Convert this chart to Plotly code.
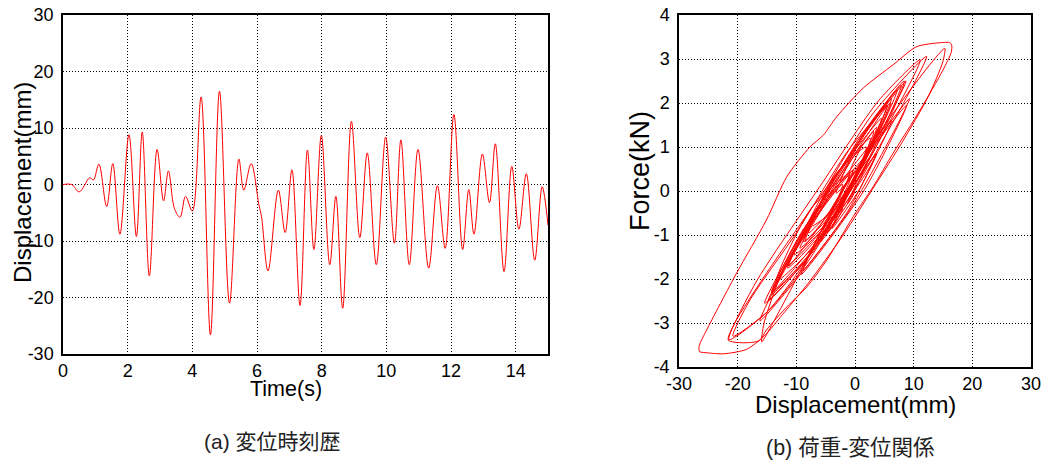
import plotly.graph_objects as go
from plotly.subplots import make_subplots

# ---------------- data: (a) displacement time history (peaks)
time_s = [0.0, 0.27, 0.5, 0.83, 0.94, 1.11, 1.35, 1.54, 1.76, 2.04, 2.27, 2.45, 2.67,
          2.91, 3.11, 3.26, 3.45, 3.62, 3.79, 4.0, 4.27, 4.56, 4.84, 5.15, 5.44, 5.59,
          5.82, 6.06, 6.14, 6.34, 6.66, 6.87, 7.08, 7.33, 7.56, 7.76, 7.99, 8.25, 8.44,
          8.65, 8.92, 9.18, 9.41, 9.69, 9.98, 10.25, 10.45, 10.71, 10.98, 11.31, 11.58,
          11.82, 12.09, 12.36, 12.55, 12.71, 12.97, 13.19, 13.37, 13.64, 13.88, 14.1,
          14.33, 14.59, 14.82, 15.0]
disp_mm = [0.0, 0.0, -1.3, 1.2, 0.8, 3.6, -3.9, 3.7, -8.8, 8.8, -9.2, 9.3, -16.2,
           6.2, -2.9, 2.4, -4.3, -5.8, -2.1, -4.7, 15.5, -26.6, 16.5, -21.0, 4.5, -1.0,
           3.7, -3.6, -5.7, -15.3, -1.0, -8.5, 2.6, -21.4, 6.1, -11.5, 8.7, -14.2, -2.1,
           -21.9, 11.2, -9.4, 5.6, -14.2, 8.4, -10.4, 7.9, -14.2, 6.2, -14.8, -0.2,
           -11.3, 12.4, -11.5, -0.9, -8.8, 5.4, -3.2, 7.2, -15.4, 3.2, -7.9,
           1.9, -13.4, -0.4, -7.2]

# ---------------- data: (b) force-displacement loops
hyst_disp = [0.0, -0.52, -1.3, 0.65, 3.6, 0.6, -3.9, -0.86, 3.7, -1.3, -8.8, -1.76, 8.8,
             1.6, -9.2, -1.8, 9.3, -0.9, -16.2, -7.24, 6.2, 2.55, -2.9, -0.78, 2.4, -0.88,
             -5.8, -4.32, -2.1, -3.14, -4.7, 3.3, 15.3,
             15.0, 12.5, 8.0, 3.5, -2.0, -8.0, -12.0, -15.5, -18.5, -22.4, -25.0, -26.5, -26.6,
             -26.4, -25.3, -20.2, -15.1, -11.6, -7.7, -5.4, -3.1, 1.4, 6.5, 10.5, 14.5, 16.2, 16.5,
             16.4, 15.0, 11.1, 6.5, 3.1, -0.3, -4.8, -8.2, -11.6, -15.1, -16.3, -19.0, -21.6,
             -20.5, -15.0, -5.0, 4.5, 2.0, -1.0, 1.1, 3.7, 1.0, -5.7, -10.0, -14.0, -15.9,
             -15.5, -12.0, -6.0, -1.0, -4.4, -8.5, -3.8, 2.6, 0.0, -8.0, -15.0, -20.8,
             -18.0, -10.0, -1.0, 6.1, 1.0, -6.0, -11.5, -6.0, 2.0, 8.7, 3.0, -6.0, -14.2,
             -8.7, -2.1, -7.0, -15.0, -21.5, -17.0, -6.0, 4.0, 11.1, 5.0, -3.0, -9.4,
             -4.0, 1.0, 5.6, 0.0, -8.0, -14.2, -8.0, 1.0, 8.4, 3.0, -5.0, -10.4,
             -5.0, 2.0, 7.9, 2.0, -7.0, -14.2, -8.0, 0.0, 6.2, 1.0, -8.0, -14.8,
             -8.0, -0.2, -5.0, -11.3, -6.0, 3.0, 12.2, 6.0, -3.0, -11.5, -6.5, -0.9,
             -4.2, -8.8, -3.5, 5.4, 1.8, -3.2, 1.0, 7.2, 2.0, -7.0, -15.4, -7.0, 3.2,
             -1.5, -7.9, -3.5, 1.9, -4.0, -13.4, -7.5, -0.4, -3.3, -7.2]
hyst_force = [0.0, -0.15, -0.3, 0.28, 0.85, 0.0, -0.85, 0.0, 0.85, -0.475, -1.8, 0.075, 1.95,
              0.025, -1.9, 0.1, 2.1, -0.43, -2.95, -0.68, 1.6, 0.55, -0.5, 0.125, 0.75, -0.2,
              -1.15, -0.775, -0.4, -0.675, -0.95, 1.15, 3.24,
              2.95, 2.15, 1.1, 0.15, -1.0, -2.1, -2.75, -3.3, -3.6, -3.7, -3.68, -3.65, -3.55,
              -3.46, -3.16, -1.87, -0.66, 0.33, 1.0, 1.27, 1.69, 2.34, 2.87, 3.28, 3.37, 3.37, 3.3,
              3.15, 2.75, 1.84, 0.86, 0.1, -0.58, -1.57, -2.18, -2.63, -3.16, -3.4, -3.45, -3.39,
              -3.0, -1.85, 0.05, 1.65, 0.85, 0.4, 1.0, 1.45, 0.55, -0.9, -2.0, -3.0, -3.43,
              -3.0, -1.7, -0.3, 0.35, -0.5, -1.15, 0.25, 1.2, 0.25, -1.6, -2.75, -3.3,
              -2.5, -0.95, 0.95, 2.0, 0.55, -0.95, -1.7, -0.45, 1.35, 2.5, 1.0, -1.05, -2.3,
              -0.85, 0.15, -1.3, -2.75, -3.38, -2.1, 0.1, 2.05, 2.98, 1.35, -0.45, -1.3,
              -0.05, 1.05, 1.95, 0.35, -1.5, -2.3, -0.8, 1.25, 2.5, 0.85, -0.8, -1.45,
              -0.15, 1.4, 2.4, 0.65, -1.3, -2.35, -0.75, 1.0, 2.1, 0.5, -1.5, -2.5,
              -0.85, 0.5, -0.6, -1.7, -0.2, 1.75, 3.06, 1.45, -0.55, -1.75, -0.45, 0.4,
              -0.55, -1.15, 0.3, 1.95, 0.75, -0.05, 1.2, 2.3, 0.75, -1.35, -2.55, -0.5, 1.35,
              0.0, -0.95, 0.35, 1.0, -0.8, -2.05, -0.4, 0.45, -0.4, -0.8]

time_ticks = [0, 2, 4, 6, 8, 10, 12, 14]
time_labels = ["0", "2", "4", "6", "8", "10", "12", "14"]
disp_ticks = [-30, -20, -10, 0, 10, 20, 30]
disp_labels = ["-30", "-20", "-10", "0", "10", "20", "30"]
force_ticks = [-4, -3, -2, -1, 0, 1, 2, 3, 4]
force_labels = ["-4", "-3", "-2", "-1", "0", "1", "2", "3", "4"]

W, H = 1049, 466
def px(x):
    return x / W
def py(y):
    return 1 - y / H

fig = make_subplots(rows=1, cols=2)
fig.add_trace(go.Scatter(x=time_s, y=disp_mm, mode="lines",
                         line=dict(color="#ff0000", width=1, shape="spline", smoothing=1.0),
                         showlegend=False), row=1, col=1)
fig.add_trace(go.Scatter(x=hyst_disp, y=hyst_force, mode="lines",
                         line=dict(color="#ff0000", width=1, shape="spline", smoothing=0.7),
                         showlegend=False), row=1, col=2)

tickfont = dict(family="Liberation Sans, Arial, sans-serif", size=18, color="#000")
axis_common = dict(showline=True, mirror=True, linecolor="#000", linewidth=1.5,
                   showgrid=True, gridcolor="#000", gridwidth=1, griddash="1px,2px",
                   zeroline=False, ticks="", tickfont=tickfont, automargin=False)

fig.update_layout(
    template="none",
    width=W, height=H, margin=dict(l=0, r=0, t=0, b=0),
    paper_bgcolor="white", plot_bgcolor="white", showlegend=False,
    xaxis=dict(domain=[px(63), px(548)], range=[0, 15], tickvals=time_ticks,
               ticktext=time_labels, **axis_common),
    yaxis=dict(domain=[py(354), py(15)], range=[-30, 30], tickvals=disp_ticks,
               ticktext=disp_labels, ticklabelstandoff=4, **axis_common),
    xaxis2=dict(domain=[px(679), px(1031)], range=[-30, 30], tickvals=disp_ticks,
                ticktext=disp_labels, **axis_common),
    yaxis2=dict(domain=[py(367), py(15)], range=[-4, 4], tickvals=force_ticks,
                ticktext=force_labels, ticklabelstandoff=4, **axis_common),
)

title_font = "Liberation Sans, Arial, sans-serif"
cap_font = "Liberation Sans, Noto Sans CJK JP, sans-serif"
ann = [
    dict(text="Time(s)", x=px(286), y=py(389), size=21.5, angle=0, fam=title_font, col="#000"),
    dict(text="Displacement(mm)", x=px(22), y=py(183), size=24, angle=-90, fam=title_font, col="#000"),
    dict(text="Displacement(mm)", x=px(855), y=py(404), size=24, angle=0, fam=title_font, col="#000"),
    dict(text="Force(kN)", x=px(640), y=py(171), size=27, angle=-90, fam=title_font, col="#000"),
    dict(text="(a) 変位時刻歴", x=px(272), y=py(441), size=21, angle=0, fam=cap_font, col="#222"),
    dict(text="(b) 荷重-変位関係", x=px(850), y=py(448), size=21.5, angle=0, fam=cap_font, col="#222"),
]
for a in ann:
    fig.add_annotation(text=a["text"], x=a["x"], y=a["y"], xref="paper", yref="paper",
                       xanchor="center", yanchor="middle", showarrow=False, textangle=a["angle"],
                       font=dict(family=a["fam"], size=a["size"], color=a["col"]))

fig.write_html("out.html")
